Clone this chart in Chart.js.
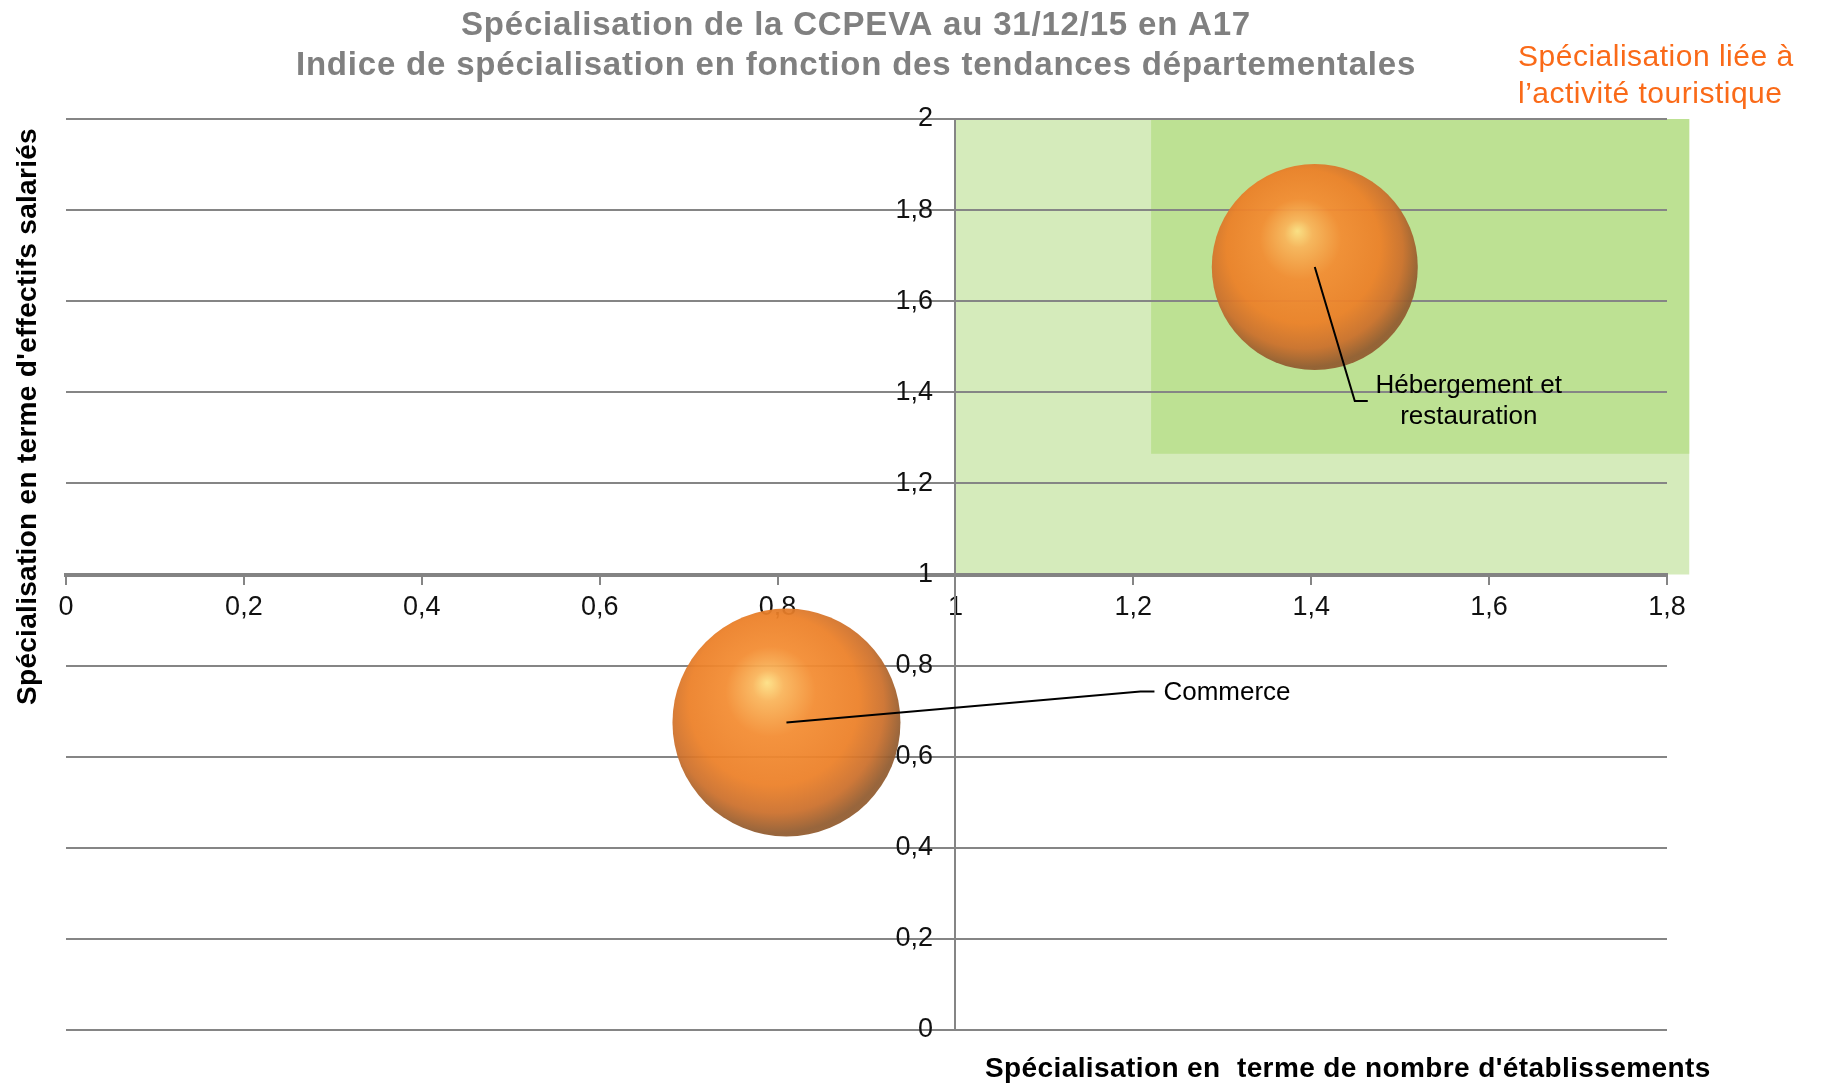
<!DOCTYPE html>
<html>
<head>
<meta charset="utf-8">
<script src="https://cdn.jsdelivr.net/npm/chart.js@4"></script>
<style>
	html, body { margin: 0; padding: 0; background: #fff; }
	#conteneur { width: 1821px; height: 1085px; }
</style>
</head>
<body>
<div id="conteneur"><canvas id="myChart" width="1821" height="1085"></canvas></div>
<script>
// donnees
var secteurs = ["Commerce", "Hébergement et restauration"];
var indiceEtablissements = [0.81, 1.404];
var indiceSalaries = [0.675, 1.675];
var tailleBulles = [114, 103];

var xTickLabels = ["0", "0,2", "0,4", "0,6", "0,8", "1", "1,2", "1,4", "1,6", "1,8"];
var yTickLabels = ["0", "0,2", "0,4", "0,6", "0,8", "1", "1,2", "1,4", "1,6", "1,8", "2"];

// zones vertes (specialisation touristique)
var zoneClaire = { x: [1, 1.825], y: [1, 2] };
var zoneFoncee = { x: [1.22, 1.825], y: [1.265, 2] };

var police = "'Liberation Sans', Arial, sans-serif";
var gris = '#858585';

// degrade "sphere" pour les bulles
function degradeBulle(context) {
	var raw = context.raw;
	var chart = context.chart;
	if (!raw || !chart.scales || !chart.scales.x || !chart.scales.y) return '#ee8128';
	var cx = chart.scales.x.getPixelForValue(raw.x);
	var cy = chart.scales.y.getPixelForValue(raw.y);
	var r = raw.r;
	if (!isFinite(cx) || !isFinite(cy) || !isFinite(r)) return '#ee8128';
	var g = chart.ctx.createRadialGradient(cx - r * 0.17, cy - r * 0.35, 0, cx - r * 0.08, cy - r * 0.12, r * 1.13);
	g.addColorStop(0, 'rgba(253,224,132,0.94)');
	g.addColorStop(0.12, 'rgba(249,180,90,0.94)');
	g.addColorStop(0.35, 'rgba(243,140,50,0.94)');
	g.addColorStop(0.66, 'rgba(236,128,40,0.94)');
	g.addColorStop(0.84, 'rgba(204,112,44,0.94)');
	g.addColorStop(0.97, 'rgba(146,92,48,0.94)');
	g.addColorStop(1, 'rgba(146,92,48,0.94)');
	return g;
}

var pointsBulles = secteurs.map(function (s, i) {
	return { x: indiceEtablissements[i], y: indiceSalaries[i], r: tailleBulles[i] };
});

// zones vertes derriere la grille
var pluginZones = {
	id: 'zones',
	beforeDraw: function (chart) {
		var ctx = chart.ctx;
		var sx = chart.scales.x, sy = chart.scales.y;
		ctx.save();
		ctx.fillStyle = '#fff';
		ctx.fillRect(0, 0, chart.width, chart.height);
		[[zoneClaire, '#d5ebbb'], [zoneFoncee, '#bde193']].forEach(function (z) {
			var x1 = sx.getPixelForValue(z[0].x[0]), x2 = sx.getPixelForValue(z[0].x[1]);
			var y1 = sy.getPixelForValue(z[0].y[1]), y2 = sy.getPixelForValue(z[0].y[0]);
			ctx.fillStyle = z[1];
			ctx.fillRect(x1, y1, x2 - x1, y2 - y1);
		});
		ctx.restore();
	}
};

// etiquettes des bulles (decalages par rapport au centre)
var etiquettes = [
	{ lignes: ["Commerce"], coude: [354, -31], fin: [368, -31], texte: [377, -30], align: 'left' },
	{ lignes: ["Hébergement et", "restauration"], coude: [40, 134], fin: [53, 134], texte: [154, 119], align: 'center' }
];

var pluginTextes = {
	id: 'textes',
	afterDraw: function (chart) {
		var ctx = chart.ctx;
		var meta = chart.getDatasetMeta(0);
		ctx.save();
		meta.data.forEach(function (el, i) {
			var e = etiquettes[i];
			ctx.strokeStyle = '#000';
			ctx.lineWidth = 2;
			ctx.beginPath();
			ctx.moveTo(el.x, el.y);
			ctx.lineTo(el.x + e.coude[0], el.y + e.coude[1]);
			ctx.lineTo(el.x + e.fin[0], el.y + e.fin[1]);
			ctx.stroke();
			ctx.fillStyle = '#000';
			ctx.font = '26px ' + police;
			ctx.textAlign = e.align;
			ctx.textBaseline = 'middle';
			e.lignes.forEach(function (l, j) {
				ctx.fillText(l, el.x + e.texte[0], el.y + e.texte[1] + j * 31);
			});
		});

		// titre
		ctx.fillStyle = '#808080';
		ctx.font = 'bold 33px ' + police;
		ctx.letterSpacing = '0.8px';
		ctx.textAlign = 'center';
		ctx.textBaseline = 'alphabetic';
		ctx.fillText("Spécialisation de la CCPEVA au 31/12/15 en A17", 856, 35);
		ctx.fillText("Indice de spécialisation en fonction des tendances départementales", 856, 75);

		// note orange
		ctx.fillStyle = '#fa6a18';
		ctx.font = '30px ' + police;
		ctx.letterSpacing = '0.5px';
		ctx.textAlign = 'left';
		ctx.fillText("Spécialisation liée à", 1518, 66);
		ctx.fillText("l\u2019activité touristique", 1518, 103);

		// titres des axes
		ctx.fillStyle = '#000';
		ctx.font = 'bold 28px ' + police;
		ctx.letterSpacing = '0.4px';
		ctx.textAlign = 'left';
		ctx.fillText("Spécialisation en  terme de nombre d'établissements", 985, 1077);
		ctx.letterSpacing = '0.3px';
		ctx.translate(36, 705);
		ctx.rotate(-Math.PI / 2);
		ctx.fillText("Spécialisation en terme d'effectifs salariés", 0, 0);
		ctx.restore();
	}
};

var ctx = document.getElementById('myChart').getContext('2d');
var chart = new Chart(ctx, {
	type: 'bubble',
	data: {
		datasets: [{
			label: "Secteurs",
			data: pointsBulles,
			backgroundColor: degradeBulle,
			borderWidth: 0,
			clip: false
		}]
	},
	options: {
		responsive: false,
		animation: false,
		events: [],
		layout: { autoPadding: false, padding: { left: 66, top: 119, right: 154, bottom: 55 } },
		plugins: {
			legend: { display: false },
			tooltip: { enabled: false },
			title: { display: false }
		},
		scales: {
			x: {
				type: 'linear',
				min: 0,
				max: 1.8,
				position: { y: 1 },
				afterFit: function (scale) { scale.height = 0; },
				afterBuildTicks: function (scale) {
					scale.ticks = xTickLabels.map(function (t, i) { return { value: i * 0.2 }; });
				},
				grid: { drawOnChartArea: false, drawTicks: true, tickLength: 8, color: gris, lineWidth: 2 },
				border: { display: true, color: '#838383', width: 4 },
				ticks: {
					padding: 9,
					color: '#111',
					font: { family: police, size: 27 },
					maxRotation: 0,
					autoSkip: false,
					callback: function (v, i) { return xTickLabels[i]; }
				}
			},
			y: {
				type: 'linear',
				min: 0,
				max: 2,
				position: { x: 1 },
				afterFit: function (scale) { scale.width = 0; },
				afterBuildTicks: function (scale) {
					scale.ticks = yTickLabels.map(function (t, i) { return { value: i * 0.2 }; });
				},
				grid: { drawOnChartArea: true, drawTicks: false, color: gris, lineWidth: 2 },
				border: { display: true, color: gris, width: 2 },
				ticks: {
					padding: 16,
					color: '#111',
					font: { family: police, size: 27 },
					autoSkip: false,
					// espaces pour decoller les etiquettes de l'axe
					callback: function (v, i) { return yTickLabels[i] + '   '; }
				}
			}
		}
	},
	plugins: [pluginZones, pluginTextes]
});
</script>
</body>
</html>
